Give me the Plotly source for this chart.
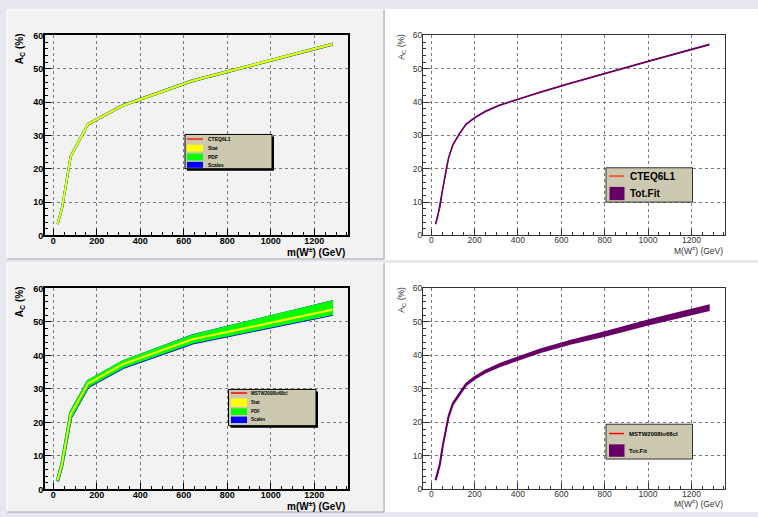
import plotly.graph_objects as go

W, H = 758, 517

# ---- Generator-level charge asymmetry vs. W' mass ----
mass_pts = [20, 40, 80, 160, 320, 640, 1280]

# CTEQ6L1
cteq_ac = [3.5, 8.1, 23.7, 33.4, 39.0, 46.4, 57.3]
cteq_stat = [0.06, 0.06, 0.08, 0.08, 0.08, 0.08, 0.08]
cteq_pdf = [0.08, 0.08, 0.1, 0.1, 0.1, 0.1, 0.1]
cteq_scale = [0.1, 0.1, 0.12, 0.12, 0.12, 0.12, 0.12]

# MSTW2008lo68cl
mstw_ac = [2.8, 7.6, 22.4, 31.6, 37.4, 44.8, 53.6]
mstw_stat = [0.08, 0.08, 0.1, 0.1, 0.1, 0.1, 0.12]
mstw_pdf_up = [0.2, 0.4, 0.6, 0.7, 0.7, 1.1, 2.4]
mstw_pdf_dn = [0.2, 0.3, 0.8, 0.7, 0.8, 0.9, 1.2]
mstw_scale_up = [0.2, 0.4, 0.6, 0.7, 0.7, 1.1, 2.4]
mstw_scale_dn = [0.4, 0.5, 1.05, 0.95, 1.05, 1.15, 1.45]

# ---- Fitted curves with total uncertainty ----
fit_mass = [20, 30, 40, 50, 60, 70, 80, 100, 130, 160, 200, 250, 320, 400, 500, 640, 800, 1000, 1280]
cteq_fit = [3.4, 5.8, 8.5, 12.8, 16.5, 20.2, 23.3, 27.2, 30.5, 33.3, 35.3, 37.2, 39.2, 40.8, 42.9, 45.6, 48.6, 52.2, 57.2]
cteq_fit_err = [0.05, 0.05, 0.05, 0.05, 0.05, 0.05, 0.05, 0.05, 0.05, 0.05, 0.05, 0.05, 0.05, 0.05, 0.05, 0.05, 0.05, 0.05, 0.05]
mstw_fit = [2.8, 5.0, 7.6, 11.8, 15.5, 19.0, 21.8, 25.6, 28.6, 31.3, 33.3, 35.2, 37.2, 39.1, 41.3, 43.9, 46.4, 49.8, 54.2]
mstw_fit_err = [0.05, 0.05, 0.07, 0.1, 0.12, 0.13, 0.15, 0.17, 0.2, 0.22, 0.25, 0.27, 0.3, 0.35, 0.4, 0.45, 0.53, 0.6, 0.7]

x_ticks = [0, 200, 400, 600, 800, 1000, 1200]
y_ticks = [0, 10, 20, 30, 40, 50, 60]

RED = "#ff0000"
YELLOW = "#ffff00"
GREEN = "#00ff00"
BLUE = "#0000ff"
PURPLE = "#660066"
TAN = "#cdc9b0"
FONT = "Liberation Sans, Arial, sans-serif"


def band(x, center, lo_err, hi_err, color, xa, ya, edge=1.5):
    upper = [c + e for c, e in zip(center, hi_err)]
    lower = [c - e for c, e in zip(center, lo_err)]
    return go.Scatter(x=list(x) + list(x)[::-1], y=upper + lower[::-1],
                      fill="toself", fillcolor=color, mode="lines",
                      line=dict(width=edge, color=color), hoverinfo="skip",
                      showlegend=False, xaxis=xa, yaxis=ya)


def line(x, y, color, xa, ya, width=1):
    return go.Scatter(x=x, y=y, mode="lines", line=dict(color=color, width=width),
                      showlegend=False, xaxis=xa, yaxis=ya)


fig = go.Figure()

# top-left: CTEQ6L1 with stat / PDF / scale bands
fig.add_trace(line(mass_pts, cteq_ac, RED, "x", "y"))
fig.add_trace(band(mass_pts, cteq_ac, cteq_scale, cteq_scale, BLUE, "x", "y", 2.2))
fig.add_trace(band(mass_pts, cteq_ac, cteq_pdf, cteq_pdf, GREEN, "x", "y", 1.9))
fig.add_trace(band(mass_pts, cteq_ac, cteq_stat, cteq_stat, YELLOW, "x", "y", 1.6))

# top-right: CTEQ6L1 fit
fig.add_trace(line(fit_mass, cteq_fit, RED, "x2", "y2"))
fig.add_trace(band(fit_mass, cteq_fit, cteq_fit_err, cteq_fit_err, PURPLE, "x2", "y2", 1.5))

# bottom-left: MSTW2008lo68cl with stat / PDF / scale bands
fig.add_trace(line(mass_pts, mstw_ac, RED, "x3", "y3"))
fig.add_trace(band(mass_pts, mstw_ac, mstw_scale_dn, mstw_scale_up, BLUE, "x3", "y3", 2.8))
fig.add_trace(band(mass_pts, mstw_ac, mstw_pdf_dn, mstw_pdf_up, GREEN, "x3", "y3", 2.6))
fig.add_trace(band(mass_pts, mstw_ac, mstw_stat, mstw_stat, YELLOW, "x3", "y3", 1.4))

# bottom-right: MSTW2008lo68cl fit
fig.add_trace(line(fit_mass, mstw_fit, RED, "x4", "y4"))
fig.add_trace(band(fit_mass, mstw_fit, mstw_fit_err, mstw_fit_err, PURPLE, "x4", "y4", 2.0))


def px(x):
    return x / W


def py(y):
    return 1 - y / H


def axis_style(bold, domain, anchor, is_x):
    tick_font = dict(family=FONT, size=9 if bold else 8.5,
                     color="#000000" if bold else "#333333",
                     weight=700 if bold else 400)
    ax = dict(domain=domain, anchor=anchor, showline=True, mirror=True,
              linecolor="#000000" if bold else "#333333",
              linewidth=2 if bold else 1,
              ticks="inside", ticklen=6, tickwidth=1,
              tickcolor="#000000" if bold else "#333333",
              tickfont=tick_font, showgrid=True, gridcolor="#7a7a7a",
              griddash="dot", gridwidth=1, zeroline=False, fixedrange=True)
    if is_x:
        ax.update(range=[-38, 1355], tickvals=x_ticks, ticklabelstandoff=-4,
                  minor=dict(dtick=50, tick0=0, ticks="inside", ticklen=3,
                             tickcolor=ax["tickcolor"], showgrid=False))
    else:
        ax.update(range=[0, 60], tickvals=y_ticks, ticklabelstandoff=-2,
                  minor=dict(dtick=2, tick0=0, ticks="inside", ticklen=3,
                             tickcolor=ax["tickcolor"], showgrid=False))
    return ax


xl = [px(45), px(348)]
xr = [px(423), px(725)]
yt = [py(235), py(31)]
yb = [py(494), py(289)]

shapes = []
annotations = []


def rect(x0, y0, x1, y1, fill, line_color=None, lw=0, layer="below"):
    shapes.append(dict(type="rect", xref="paper", yref="paper",
                       x0=px(x0), x1=px(x1), y0=py(y1), y1=py(y0),
                       fillcolor=fill, layer=layer,
                       line=dict(width=lw, color=line_color or fill)))


def seg(x0, y0, x1, y1, color, width=1, layer="below"):
    shapes.append(dict(type="line", xref="paper", yref="paper",
                       x0=px(x0), x1=px(x1), y0=py(y0), y1=py(y1),
                       layer=layer, line=dict(color=color, width=width)))


# canvas panels
for (top, bot) in [(5, 259), (263, 517)]:
    rect(7, top, 384, bot, "#f2f2f2")
    seg(7, top, 384, top, "#ffffff")
    seg(7, top, 7, bot, "#ffffff")
    seg(384, top, 384, bot, "#a8a8a8")
    seg(7, bot, 384, bot, "#a8a8a8")
rect(385, 4, 758, 260, "#ffffff")
rect(385, 263, 758, 517, "#ffffff")


def text(x, y, s, size, bold, xanchor="center", angle=0, color="#000000"):
    annotations.append(dict(x=px(x), y=py(y), xref="paper", yref="paper",
                            text=s, showarrow=False, xanchor=xanchor,
                            yanchor="middle", textangle=angle,
                            font=dict(family=FONT, size=size, color=color,
                                      weight=700 if bold else 400)))


# axis titles
for (ycen, ytitle) in [(252, 45), (511, 303)]:
    text(347, ycen, "m(W<sup>±</sup>) (GeV)", 10, True, xanchor="right")
    text(20, ytitle, "A<sub>C</sub> (%)", 10, True, angle=-90)
for (ycen, ytitle) in [(250, 42), (508, 300)]:
    text(725, ycen, "M(W<sup>±</sup>) (GeV)", 8.5, False, xanchor="right", color="#333333")
    text(401.5, ytitle, "A<sub>C</sub> (%)", 8.5, False, angle=-90, color="#333333")


# legends
def legend_box(x0, y0, x1, y1, shadow, border):
    if shadow:
        rect(x0 + 2, y0 + 2, x1 + 2, y1 + 2, "#000000", layer="above")
    rect(x0, y0, x1, y1, TAN, line_color=border, lw=1, layer="above")


def swatch_line(x0, x1, y, color, width):
    seg(x0, y, x1, y, color, width, layer="above")


def swatch_box(x0, y0, x1, y1, color):
    rect(x0, y0, x1, y1, color, line_color=color, lw=0, layer="above")


# top-left legend
legend_box(185, 132, 272, 167, True, "#000000")
swatch_line(187, 203, 136.7, "#ee4433", 2)
swatch_box(187, 142.5, 203, 149.5, YELLOW)
swatch_box(187, 151.5, 203, 158.5, GREEN)
swatch_box(187, 160, 203, 166, BLUE)
for yy, s in zip([136.7, 146, 155, 163.3], ["CTEQ6L1", "Stat", "PDF", "Scales"]):
    text(206, yy, s, 5, True, xanchor="left")

# top-right legend
legend_box(606, 166, 692.5, 201, False, "#333333")
swatch_line(609, 624, 174.5, "#f05a46", 2)
swatch_box(609.5, 185.5, 624.5, 199, PURPLE)
text(627.5, 175, "CTEQ6L1", 10, True, xanchor="left")
text(627.5, 192.3, "Tot.Fit", 10, True, xanchor="left")

# bottom-left legend
legend_box(228.5, 392, 316, 429, True, "#000000")
swatch_line(231, 247, 395.7, RED, 1.5)
swatch_box(231, 401.3, 247, 409.7, YELLOW)
swatch_box(231, 411.3, 247, 418, GREEN)
swatch_box(231, 419.7, 247, 426.3, BLUE)
for yy, s in zip([396, 405.5, 414.7, 423], ["MSTW2008lo68cl", "Stat", "PDF", "Scales"]):
    text(249, yy, s, 4.5, True, xanchor="left")

# bottom-right legend
legend_box(606, 427.5, 692.5, 463, False, "#333333")
swatch_line(609, 624, 437, RED, 1.5)
swatch_box(609, 448, 624.5, 460.7, PURPLE)
text(627, 437, "MSTW2008lo68cl", 6, True, xanchor="left")
text(627, 454.5, "Tot.Fit", 6, True, xanchor="left")

fig.update_layout(
    width=W, height=H, autosize=False,
    margin=dict(l=0, r=0, t=0, b=0),
    paper_bgcolor="#e7e7ef", plot_bgcolor="rgba(0,0,0,0)",
    showlegend=False,
    xaxis=axis_style(True, xl, "y", True),
    yaxis=axis_style(True, yt, "x", False),
    xaxis2=axis_style(False, xr, "y2", True),
    yaxis2=axis_style(False, yt, "x2", False),
    xaxis3=axis_style(True, xl, "y3", True),
    yaxis3=axis_style(True, yb, "x3", False),
    xaxis4=axis_style(False, xr, "y4", True),
    yaxis4=axis_style(False, yb, "x4", False),
    shapes=shapes, annotations=annotations,
)

fig.write_html("out.html")
